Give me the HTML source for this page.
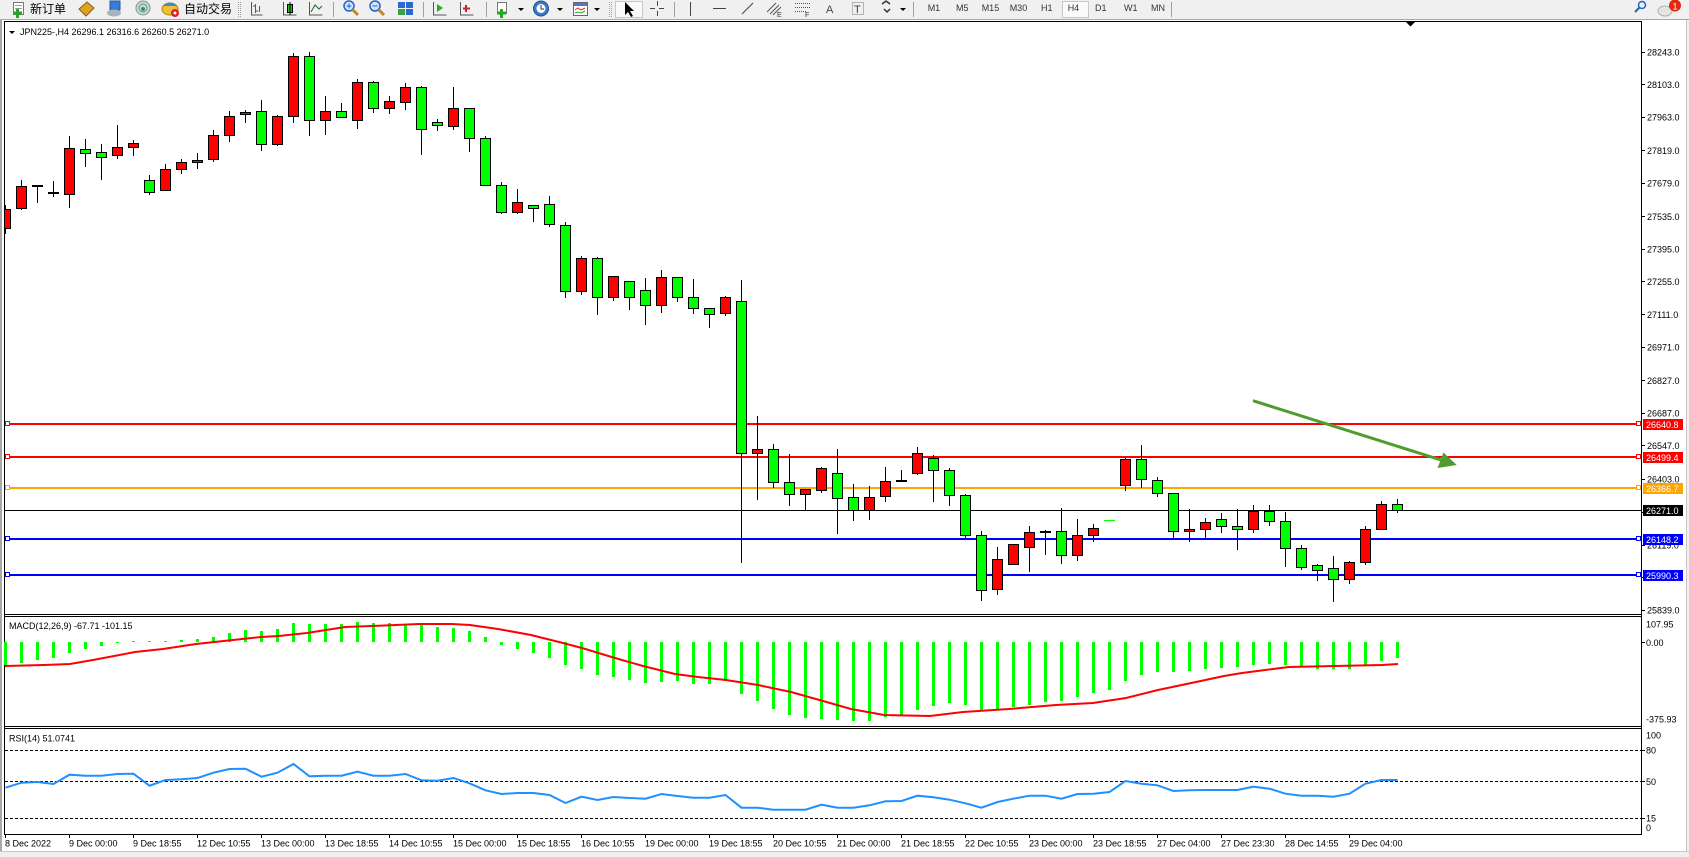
<!DOCTYPE html>
<html><head><meta charset="utf-8"><style>
html,body{margin:0;padding:0;background:#f0f0f0;}
svg{display:block;}
text{font-family:"Liberation Sans",sans-serif;}
.cjk{font-family:"Liberation Sans","Noto Sans CJK SC",sans-serif;}
</style></head><body>
<svg width="1689" height="857" viewBox="0 0 1689 857" xmlns="http://www.w3.org/2000/svg">
<defs><clipPath id="mc"><rect x="5" y="22" width="1636" height="592"/></clipPath></defs>
<!-- background -->
<rect x="0" y="0" width="1689" height="857" fill="#f0f0f0"/>
<!-- toolbar -->
<rect x="0" y="0" width="1689" height="19" fill="#f0f0f0"/>
<line x1="0" y1="19.5" x2="1689" y2="19.5" stroke="#a8a8a8"/>
<g shape-rendering="crispEdges">
<rect x="13.5" y="2.5" width="10" height="12" fill="#fff" stroke="#777"/>
<line x1="15" y1="5.5" x2="22" y2="5.5" stroke="#999"/><line x1="15" y1="8.5" x2="22" y2="8.5" stroke="#999"/>
</g>
<path d="M13 13h9M17.5 9v9" stroke="#22aa22" stroke-width="3"/>
<text x="30" y="13" font-size="12" class="cjk" fill="#000">新订单</text>
<polygon points="79,9 87,2 94,8 86,16" fill="#d9a520" stroke="#8a5a10"/>
<rect x="110" y="1" width="10" height="9" fill="#3a7bd5" stroke="#245a9e"/>
<ellipse cx="114" cy="13" rx="7" ry="3.5" fill="#a8b4bc"/>
<circle cx="143" cy="8" r="7" fill="#c8d8e0" stroke="#7a9a8a"/>
<circle cx="143" cy="8" r="4" fill="none" stroke="#6a9a6a"/>
<circle cx="143" cy="9" r="2" fill="#3a9a3a"/>
<ellipse cx="170" cy="9" rx="8" ry="6" fill="#f0c030" stroke="#b08010"/>
<path d="M163 6 q7 -7 14 0z" fill="#3a8ad0"/>
<circle cx="175" cy="13" r="4" fill="#e02020"/><circle cx="175" cy="13" r="1.5" fill="#fff"/>
<text x="184" y="13" font-size="12" class="cjk" fill="#000">自动交易</text>
<g stroke="#a0a0a0" shape-rendering="crispEdges">
<line x1="238.5" y1="2" x2="238.5" y2="17" stroke-dasharray="1,1"/><line x1="240.5" y1="2" x2="240.5" y2="17" stroke-dasharray="1,1"/>
<line x1="333.5" y1="2" x2="333.5" y2="17"/>
<line x1="423.5" y1="2" x2="423.5" y2="17"/>
<line x1="486.5" y1="2" x2="486.5" y2="17"/>
<line x1="609.5" y1="2" x2="609.5" y2="17" stroke-dasharray="1,1"/><line x1="611.5" y1="2" x2="611.5" y2="17" stroke-dasharray="1,1"/>
<line x1="674.5" y1="2" x2="674.5" y2="17"/>
<line x1="913.5" y1="2" x2="913.5" y2="17"/>
<line x1="1171.5" y1="2" x2="1171.5" y2="17"/>
</g>
<!-- chart type icons -->
<g stroke-width="1" shape-rendering="crispEdges">
<path d="M251.5 2v13h11" stroke="#555" fill="none"/>
<path d="M255.5 4v9M253 6h2.5M255.5 11h2.5M259.5 6v6" stroke="#208020" fill="none"/>
<path d="M283.5 2v13h13" stroke="#555" fill="none"/>
<rect x="287.5" y="4.5" width="5" height="8" fill="#20c020" stroke="#000"/>
<line x1="290" y1="2" x2="290" y2="15" stroke="#000"/>
<path d="M309.5 2v13h13" stroke="#555" fill="none"/>
</g>
<path d="M311 12 L315 5 L319 9 L322 6" stroke="#306030" fill="none"/>
<!-- zoom -->
<circle cx="349" cy="6" r="5" fill="#cfe6ff" stroke="#2a62c0" stroke-width="1.5"/>
<path d="M346.5 6h5M349 3.5v5" stroke="#2a62c0"/>
<line x1="352.5" y1="9.5" x2="358" y2="15" stroke="#c08a20" stroke-width="3"/>
<circle cx="375" cy="6" r="5" fill="#cfe6ff" stroke="#2a62c0" stroke-width="1.5"/>
<path d="M372.5 6h5" stroke="#2a62c0"/>
<line x1="378.5" y1="9.5" x2="384" y2="15" stroke="#c08a20" stroke-width="3"/>
<g shape-rendering="crispEdges">
<rect x="398" y="2" width="7" height="6" fill="#2a6ad0"/><rect x="406" y="2" width="7" height="6" fill="#2a6ad0"/>
<rect x="398" y="9" width="7" height="6" fill="#3aa040"/><rect x="406" y="9" width="7" height="6" fill="#2a6ad0"/>
<path d="M433.5 2v13h13" stroke="#555" fill="none"/>
<path d="M460.5 2v13h13" stroke="#555" fill="none"/>
</g>
<polygon points="437,4 437,12 443,8" fill="#20b020"/>
<path d="M466 5v7M463 8.5h7" stroke="#d02020" stroke-width="2"/>
<rect x="497.5" y="2.5" width="9" height="11" fill="#fff" stroke="#777"/>
<path d="M497 13h9M501.5 9v9" stroke="#22aa22" stroke-width="3"/>
<polygon points="518,8 524,8 521,11" fill="#000"/>
<circle cx="541" cy="8.5" r="7.5" fill="#3c78c8" stroke="#1d4f9a"/>
<circle cx="541" cy="8.5" r="4.5" fill="#fff"/>
<path d="M541 5v4h3" stroke="#333" fill="none"/>
<polygon points="557,8 563,8 560,11" fill="#000"/>
<rect x="573.5" y="2.5" width="14" height="13" fill="#fff" stroke="#667"/>
<rect x="574" y="3" width="13" height="3" fill="#4a7ac0"/>
<path d="M575 10l3-2 3 2 4-2" stroke="#d03030" fill="none"/>
<path d="M575 13l3-1 3 1 4-2" stroke="#30a030" fill="none"/>
<polygon points="594,8 600,8 597,11" fill="#000"/>
<!-- cursor pressed -->
<rect x="615.5" y="1.5" width="27" height="16" fill="#fafafa" stroke="#c8c8c8"/>
<polygon points="625,2 625,15 628,12 631,17 633,16 630,11 634,11" fill="#000"/>
<g stroke="#444" shape-rendering="crispEdges">
<path d="M650 8.5h5M659 8.5h5M657.5 1v5M657.5 11v5"/>
<line x1="690.5" y1="2" x2="690.5" y2="16"/>
<line x1="713" y1="8.5" x2="726" y2="8.5"/>
</g>
<line x1="742" y1="14" x2="753" y2="3" stroke="#444"/>
<path d="M767 12l9-9M770 14l9-9M773 15l8-8" stroke="#555"/>
<text x="777" y="17" font-size="7" fill="#333">E</text>
<g stroke="#555" stroke-dasharray="1,1" shape-rendering="crispEdges">
<line x1="795" y1="3.5" x2="810" y2="3.5"/><line x1="795" y1="7.5" x2="810" y2="7.5"/><line x1="795" y1="11.5" x2="806" y2="11.5"/>
</g>
<text x="805" y="17" font-size="7" fill="#333">F</text>
<text x="826" y="13" font-size="11" fill="#444">A</text>
<rect x="852.5" y="2.5" width="11" height="12" fill="none" stroke="#777" stroke-dasharray="1,1"/>
<text x="854" y="13" font-size="11" fill="#444">T</text>
<path d="M882 4l4-3 4 3M884 9l3 3 3-3" stroke="#333" stroke-width="1.5" fill="none"/>
<polygon points="900,8 906,8 903,11" fill="#000"/>
<g font-size="9" fill="#333">
<text x="927.7" y="11">M1</text>
<text x="956" y="11">M5</text>
<text x="981.7" y="11">M15</text>
<text x="1009.7" y="11">M30</text>
<text x="1041" y="11">H1</text>
</g>
<rect x="1062.5" y="1.5" width="26" height="16" fill="#fafafa" stroke="#c8c8c8"/>
<g font-size="9" fill="#333">
<text x="1067.7" y="11">H4</text>
<text x="1095" y="11">D1</text>
<text x="1124" y="11">W1</text>
<text x="1151" y="11">MN</text>
</g>
<!-- right icons -->
<circle cx="1642" cy="5" r="3.5" fill="#e8f2ff" stroke="#2a62c0" stroke-width="1.5"/>
<line x1="1639.5" y1="7.5" x2="1635" y2="12" stroke="#2a62c0" stroke-width="2"/>
<ellipse cx="1665" cy="11" rx="7" ry="5" fill="#e4e4e4" stroke="#b0b0b0"/>
<circle cx="1675" cy="5.5" r="6" fill="#e02a10"/>
<text x="1672.5" y="9.5" font-size="9" fill="#fff">1</text>

<!-- chart window -->
<rect x="2" y="20" width="1684" height="831" fill="#fff"/>
<rect x="0" y="20" width="2" height="831" fill="#a8a8a8"/>
<rect x="1686" y="20" width="1" height="831" fill="#c8c8c8"/>
<rect x="0" y="851" width="1689" height="1" fill="#c8c8c8"/>
<g stroke="#000" stroke-width="1" shape-rendering="crispEdges" fill="none">
<line x1="4.5" y1="21" x2="4.5" y2="835"/>
<line x1="4" y1="21.5" x2="1642" y2="21.5"/>
<line x1="1641.5" y1="21" x2="1641.5" y2="835"/>
<line x1="4" y1="614.5" x2="1642" y2="614.5"/>
<line x1="4" y1="616.5" x2="1642" y2="616.5"/>
<line x1="4" y1="726.5" x2="1642" y2="726.5"/>
<line x1="4" y1="728.5" x2="1642" y2="728.5"/>
<line x1="4" y1="834.5" x2="1642" y2="834.5"/>
</g>
<polygon points="1406,22 1415,22 1410.5,26.5" fill="#000"/>
<polygon points="9,31 15,31 12,34" fill="#000"/>
<text x="20" y="35" font-size="9" fill="#000">JPN225-,H4  26296.1 26316.6 26260.5 26271.0</text>

<!-- price axis labels -->
<g font-size="9" fill="#000">
<text x="1647" y="55.4">28243.0</text>
<text x="1647" y="87.9">28103.0</text>
<text x="1647" y="120.4">27963.0</text>
<text x="1647" y="153.8">27819.0</text>
<text x="1647" y="186.3">27679.0</text>
<text x="1647" y="219.8">27535.0</text>
<text x="1647" y="252.3">27395.0</text>
<text x="1647" y="284.8">27255.0</text>
<text x="1647" y="318.2">27111.0</text>
<text x="1647" y="350.7">26971.0</text>
<text x="1647" y="384.1">26827.0</text>
<text x="1647" y="416.6">26687.0</text>
<text x="1647" y="449.1">26547.0</text>
<text x="1647" y="482.5">26403.0</text>
<text x="1647" y="515.9">26259.0</text>
<text x="1647" y="548.4">26119.0</text>
<text x="1647" y="580.9">25979.0</text>
<text x="1647" y="613.4">25839.0</text>
</g>
<g stroke="#000" shape-rendering="crispEdges">
<path d="M1642 52.5h3M1642 84.5h3M1642 117.5h3M1642 150.5h3M1642 183.5h3M1642 216.5h3M1642 249.5h3M1642 281.5h3M1642 314.5h3M1642 347.5h3M1642 380.5h3M1642 413.5h3M1642 445.5h3M1642 479.5h3M1642 512.5h3M1642 545.5h3M1642 577.5h3M1642 610.5h3"/>
<path d="M1642 642.5h3M1642 750.5h3M1642 781.5h3M1642 818.5h3"/>
</g>

<!-- horizontal price lines -->
<g shape-rendering="crispEdges">
<rect x="5" y="423" width="1636" height="2" fill="#ff0000"/>
<rect x="5" y="456" width="1636" height="2" fill="#ff0000"/>
<rect x="5" y="487" width="1636" height="2" fill="#ffa500"/>
<rect x="5" y="510" width="1636" height="1" fill="#000"/>
<rect x="5" y="538" width="1636" height="2" fill="#0000ff"/>
<rect x="5" y="574" width="1636" height="2" fill="#0000ff"/>
<rect x="5.5" y="421.5" width="4" height="4" fill="#fff" stroke="#ff0000"/>
<rect x="5.5" y="454.5" width="4" height="4" fill="#fff" stroke="#ff0000"/>
<rect x="5.5" y="485.5" width="4" height="4" fill="#fff" stroke="#ffa500"/>
<rect x="5.5" y="536.5" width="4" height="4" fill="#fff" stroke="#0000ff"/>
<rect x="5.5" y="572.5" width="4" height="4" fill="#fff" stroke="#0000ff"/>
<rect x="1636.5" y="421.5" width="4" height="4" fill="#fff" stroke="#ff0000"/>
<rect x="1636.5" y="454.5" width="4" height="4" fill="#fff" stroke="#ff0000"/>
<rect x="1636.5" y="485.5" width="4" height="4" fill="#fff" stroke="#ffa500"/>
<rect x="1636.5" y="536.5" width="4" height="4" fill="#fff" stroke="#0000ff"/>
<rect x="1636.5" y="572.5" width="4" height="4" fill="#fff" stroke="#0000ff"/>
<rect x="1643" y="419" width="40" height="11" fill="#ff0000"/>
<rect x="1643" y="452" width="40" height="11" fill="#ff0000"/>
<rect x="1643" y="483" width="40" height="11" fill="#ffa500"/>
<rect x="1643" y="505" width="40" height="11" fill="#000"/>
<rect x="1643" y="534" width="40" height="11" fill="#0000ff"/>
<rect x="1643" y="570" width="40" height="11" fill="#0000ff"/>
</g>
<g font-size="9" fill="#fff">
<text x="1646" y="427.8">26640.8</text>
<text x="1646" y="460.8">26499.4</text>
<text x="1646" y="491.8">26366.7</text>
<text x="1646" y="513.8">26271.0</text>
<text x="1646" y="542.8">26148.2</text>
<text x="1646" y="578.8">25990.3</text>
</g>

<!-- candles -->
<g clip-path="url(#mc)" stroke="#000" stroke-width="1" shape-rendering="crispEdges">
<path fill="none" d="M5.5 205V234M21.5 180V210M37.5 186V203M53.5 181V197M69.5 136V208M85.5 139V167M101.5 144V180M117.5 125V159M133.5 140V156M149.5 175V195M165.5 164V191M181.5 159V174M197.5 153V169M213.5 130V162M229.5 111V142M245.5 110V123M261.5 100V151M277.5 115V146M293.5 53V123M309.5 52V136M325.5 96V135M341.5 103V118M357.5 79V129M373.5 81V113M389.5 96V114M405.5 83V110M421.5 86V155M437.5 119V131M453.5 87V130M469.5 108V152M485.5 136V186M501.5 182V214M517.5 189V214M533.5 205V222M549.5 196V227M565.5 222V298M581.5 256V295M597.5 257V315M613.5 276V301M629.5 281V310M645.5 278V325M661.5 270V313M677.5 277V302M693.5 279V314M709.5 308V328M725.5 296V316M741.5 280V563M757.5 416V500M773.5 444V488M789.5 454V506M805.5 489V510M821.5 467V493M837.5 449V534M853.5 484V521M869.5 486V520M885.5 467V502M901.5 470V482M917.5 447V475M933.5 455V502M949.5 468V506M965.5 494V538M981.5 531V601M997.5 547V595M1013.5 544V565M1029.5 526V572M1045.5 530V555M1061.5 508V564M1077.5 519V561M1093.5 524V542M1125.5 458V491M1141.5 445V488M1157.5 477V497M1173.5 493V539M1189.5 509V542M1205.5 518V539M1221.5 513V533M1237.5 509V550M1253.5 505V533M1269.5 505V526M1285.5 512V567M1301.5 545V570M1317.5 564V581M1333.5 556V602M1349.5 561V584M1365.5 526V565M1381.5 501V530M1397.5 499V513"/>
<g fill="#ff0000">
<rect x="0.5" y="209.5" width="10" height="19"/>
<rect x="16.5" y="186.5" width="10" height="22"/>
<rect x="64.5" y="148.5" width="10" height="46"/>
<rect x="112.5" y="147.5" width="10" height="8"/>
<rect x="128.5" y="143.5" width="10" height="4"/>
<rect x="160.5" y="169.5" width="10" height="21"/>
<rect x="176.5" y="162.5" width="10" height="7"/>
<rect x="192.5" y="160.5" width="10" height="2"/>
<rect x="208.5" y="135.5" width="10" height="24"/>
<rect x="224.5" y="116.5" width="10" height="19"/>
<rect x="240.5" y="112.5" width="10" height="2"/>
<rect x="272.5" y="116.5" width="10" height="28"/>
<rect x="288.5" y="56.5" width="10" height="60"/>
<rect x="320.5" y="111.5" width="10" height="9"/>
<rect x="352.5" y="82.5" width="10" height="38"/>
<rect x="384.5" y="101.5" width="10" height="7"/>
<rect x="400.5" y="87.5" width="10" height="15"/>
<rect x="448.5" y="108.5" width="10" height="18"/>
<rect x="512.5" y="202.5" width="10" height="10"/>
<rect x="576.5" y="258.5" width="10" height="33"/>
<rect x="608.5" y="276.5" width="10" height="21"/>
<rect x="656.5" y="277.5" width="10" height="28"/>
<rect x="720.5" y="297.5" width="10" height="16"/>
<rect x="752.5" y="449.5" width="10" height="4"/>
<rect x="800.5" y="489.5" width="10" height="5"/>
<rect x="816.5" y="468.5" width="10" height="22"/>
<rect x="864.5" y="497.5" width="10" height="13"/>
<rect x="880.5" y="481.5" width="10" height="15"/>
<rect x="912.5" y="453.5" width="10" height="20"/>
<rect x="992.5" y="559.5" width="10" height="30"/>
<rect x="1008.5" y="544.5" width="10" height="20"/>
<rect x="1024.5" y="532.5" width="10" height="15"/>
<rect x="1072.5" y="535.5" width="10" height="20"/>
<rect x="1088.5" y="528.5" width="10" height="7"/>
<rect x="1120.5" y="459.5" width="10" height="26"/>
<rect x="1184.5" y="529.5" width="10" height="2"/>
<rect x="1200.5" y="522.5" width="10" height="7"/>
<rect x="1248.5" y="511.5" width="10" height="18"/>
<rect x="1344.5" y="562.5" width="10" height="17"/>
<rect x="1360.5" y="529.5" width="10" height="33"/>
<rect x="1376.5" y="504.5" width="10" height="25"/>
</g>
<g fill="#00ff00">
<rect x="80.5" y="149.5" width="10" height="4"/>
<rect x="96.5" y="152.5" width="10" height="5"/>
<rect x="144.5" y="180.5" width="10" height="12"/>
<rect x="256.5" y="111.5" width="10" height="33"/>
<rect x="304.5" y="56.5" width="10" height="64"/>
<rect x="336.5" y="111.5" width="10" height="6"/>
<rect x="368.5" y="82.5" width="10" height="26"/>
<rect x="416.5" y="87.5" width="10" height="42"/>
<rect x="432.5" y="122.5" width="10" height="3"/>
<rect x="464.5" y="108.5" width="10" height="30"/>
<rect x="480.5" y="138.5" width="10" height="47"/>
<rect x="496.5" y="185.5" width="10" height="27"/>
<rect x="528.5" y="205.5" width="10" height="3"/>
<rect x="544.5" y="204.5" width="10" height="20"/>
<rect x="560.5" y="225.5" width="10" height="66"/>
<rect x="592.5" y="258.5" width="10" height="39"/>
<rect x="624.5" y="281.5" width="10" height="16"/>
<rect x="640.5" y="290.5" width="10" height="15"/>
<rect x="672.5" y="277.5" width="10" height="20"/>
<rect x="688.5" y="297.5" width="10" height="11"/>
<rect x="704.5" y="308.5" width="10" height="6"/>
<rect x="736.5" y="301.5" width="10" height="152"/>
<rect x="768.5" y="449.5" width="10" height="33"/>
<rect x="784.5" y="482.5" width="10" height="12"/>
<rect x="832.5" y="473.5" width="10" height="25"/>
<rect x="848.5" y="497.5" width="10" height="13"/>
<rect x="928.5" y="458.5" width="10" height="12"/>
<rect x="944.5" y="470.5" width="10" height="25"/>
<rect x="960.5" y="495.5" width="10" height="40"/>
<rect x="976.5" y="535.5" width="10" height="55"/>
<rect x="1056.5" y="531.5" width="10" height="24"/>
<rect x="1136.5" y="459.5" width="10" height="20"/>
<rect x="1152.5" y="480.5" width="10" height="13"/>
<rect x="1168.5" y="493.5" width="10" height="38"/>
<rect x="1216.5" y="519.5" width="10" height="7"/>
<rect x="1232.5" y="526.5" width="10" height="3"/>
<rect x="1264.5" y="511.5" width="10" height="10"/>
<rect x="1280.5" y="521.5" width="10" height="27"/>
<rect x="1296.5" y="548.5" width="10" height="19"/>
<rect x="1312.5" y="565.5" width="10" height="5"/>
<rect x="1328.5" y="568.5" width="10" height="11"/>
<rect x="1392.5" y="504.5" width="10" height="6"/>
</g>
<g fill="#000" stroke="none">
<rect x="32" y="185" width="11" height="2"/>
<rect x="48" y="192" width="11" height="2"/>
<rect x="896" y="480" width="11" height="2"/>
<rect x="1040" y="531" width="11" height="2"/>
</g>
<rect x="1104" y="520" width="11" height="1" fill="#00ff00" stroke="none"/>
</g>
<!-- arrow -->
<line x1="1253" y1="400.7" x2="1441" y2="460" stroke="#4f9d2d" stroke-width="3"/>
<polygon points="1456.7,465 1437.5,468 1443.5,452.5" fill="#4f9d2d"/>

<!-- MACD -->
<text x="9" y="629" font-size="9" fill="#000">MACD(12,26,9) -67.71 -101.15</text>
<g fill="#00ff00" shape-rendering="crispEdges">
<rect x="4" y="642" width="3" height="23"/><rect x="20" y="642" width="3" height="21"/><rect x="36" y="642" width="3" height="18"/><rect x="52" y="642" width="3" height="16"/><rect x="68" y="642" width="3" height="11"/><rect x="84" y="642" width="3" height="7"/><rect x="100" y="642" width="3" height="4"/><rect x="116" y="642" width="3" height="1"/>
<rect x="132" y="641" width="3" height="1"/><rect x="148" y="641" width="3" height="1"/><rect x="164" y="641" width="3" height="1"/><rect x="180" y="640" width="3" height="2"/><rect x="196" y="639" width="3" height="3"/><rect x="212" y="637" width="3" height="5"/><rect x="228" y="633" width="3" height="9"/><rect x="244" y="630" width="3" height="12"/><rect x="260" y="631" width="3" height="11"/><rect x="276" y="629" width="3" height="13"/><rect x="292" y="623" width="3" height="19"/><rect x="308" y="624" width="3" height="18"/><rect x="324" y="624" width="3" height="18"/><rect x="340" y="624" width="3" height="18"/><rect x="356" y="622" width="3" height="20"/><rect x="372" y="623" width="3" height="19"/><rect x="388" y="623" width="3" height="19"/><rect x="404" y="624" width="3" height="18"/><rect x="420" y="624" width="3" height="18"/><rect x="436" y="627" width="3" height="15"/><rect x="452" y="628" width="3" height="14"/><rect x="468" y="631" width="3" height="11"/><rect x="484" y="637" width="3" height="5"/>
<rect x="500" y="642" width="3" height="3"/><rect x="516" y="642" width="3" height="7"/><rect x="532" y="642" width="3" height="11"/><rect x="548" y="642" width="3" height="16"/><rect x="564" y="642" width="3" height="23"/><rect x="580" y="642" width="3" height="27"/><rect x="596" y="642" width="3" height="33"/><rect x="612" y="642" width="3" height="35"/><rect x="628" y="642" width="3" height="38"/><rect x="644" y="642" width="3" height="41"/><rect x="660" y="642" width="3" height="40"/><rect x="676" y="642" width="3" height="39"/><rect x="692" y="642" width="3" height="42"/><rect x="708" y="642" width="3" height="42"/><rect x="724" y="642" width="3" height="39"/>
<rect x="740" y="642" width="3" height="52"/><rect x="756" y="642" width="3" height="59"/><rect x="772" y="642" width="3" height="67"/><rect x="788" y="642" width="3" height="73"/><rect x="804" y="642" width="3" height="76"/><rect x="820" y="642" width="3" height="77"/><rect x="836" y="642" width="3" height="78"/><rect x="852" y="642" width="3" height="79"/><rect x="868" y="642" width="3" height="79"/><rect x="884" y="642" width="3" height="75"/><rect x="900" y="642" width="3" height="73"/><rect x="916" y="642" width="3" height="68"/><rect x="932" y="642" width="3" height="64"/><rect x="948" y="642" width="3" height="61"/><rect x="964" y="642" width="3" height="63"/><rect x="980" y="642" width="3" height="68"/><rect x="996" y="642" width="3" height="68"/><rect x="1012" y="642" width="3" height="65"/><rect x="1028" y="642" width="3" height="63"/><rect x="1044" y="642" width="3" height="60"/><rect x="1060" y="642" width="3" height="59"/><rect x="1076" y="642" width="3" height="55"/><rect x="1092" y="642" width="3" height="51"/><rect x="1108" y="642" width="3" height="48"/><rect x="1124" y="642" width="3" height="39"/><rect x="1140" y="642" width="3" height="33"/><rect x="1156" y="642" width="3" height="30"/><rect x="1172" y="642" width="3" height="30"/><rect x="1188" y="642" width="3" height="29"/><rect x="1204" y="642" width="3" height="27"/><rect x="1220" y="642" width="3" height="26"/><rect x="1236" y="642" width="3" height="25"/><rect x="1252" y="642" width="3" height="23"/><rect x="1268" y="642" width="3" height="22"/><rect x="1284" y="642" width="3" height="23"/><rect x="1300" y="642" width="3" height="24"/><rect x="1316" y="642" width="3" height="27"/><rect x="1332" y="642" width="3" height="27"/><rect x="1348" y="642" width="3" height="27"/><rect x="1364" y="642" width="3" height="23"/><rect x="1380" y="642" width="3" height="19"/><rect x="1396" y="642" width="3" height="16"/>
</g>
<polyline fill="none" stroke="#ff0000" stroke-width="2" points="5,666 44,665 70,664 93,660 135,652 163,649 196,644 233,640 261,637 279,636 307,633 326,630 345,627 372,626 396,625 419,624 452,624 470,625 498,629 531,635 559,642 582,648 615,658 643,666 675,674 698,677 726,680 758,685 772,688 791,692 823,701 851,709 884,715 930,716 963,712 1009,709 1056,705 1093,703 1126,698 1158,690 1196,682 1224,676 1242,673 1289,667 1335,666 1382,665 1398,664"/>
<g font-size="9" fill="#000">
<text x="1646" y="627.3">107.95</text>
<text x="1646" y="646">0.00</text>
<text x="1646" y="722.6">-375.93</text>
</g>

<!-- RSI -->
<text x="9" y="741.3" font-size="9" fill="#000">RSI(14) 51.0741</text>
<g stroke="#000" stroke-dasharray="3,2" shape-rendering="crispEdges">
<line x1="5" y1="750.5" x2="1641" y2="750.5"/>
<line x1="5" y1="781.5" x2="1641" y2="781.5"/>
<line x1="5" y1="818.5" x2="1641" y2="818.5"/>
</g>
<polyline fill="none" stroke="#1e90ff" stroke-width="2" points="5.5,787.7 21.5,782.7 37.5,782 53.5,784 69.5,774.7 85.5,775.7 101.5,775.7 117.5,774 133.5,773.7 149.5,785.7 165.5,780 181.5,779.3 197.5,778 213.5,772.7 229.5,769 245.5,768.7 261.5,776.7 277.5,772.7 293.5,764 309.5,776.3 325.5,775.7 341.5,775.7 357.5,771.7 373.5,775.7 389.5,775.7 405.5,774 421.5,780.3 437.5,780.7 453.5,778 469.5,783.3 485.5,790.3 501.5,794 517.5,793 533.5,793 549.5,795 565.5,803 581.5,796.7 597.5,800 613.5,797 629.5,798 645.5,798.7 661.5,794 677.5,796 693.5,797.7 709.5,797.7 725.5,795 741.5,807.7 757.5,807.7 773.5,809.7 789.5,809.7 805.5,809.7 821.5,804.7 837.5,807.7 853.5,807.7 869.5,805.3 885.5,801.3 901.5,801 917.5,795.7 933.5,797.3 949.5,799.7 965.5,803.3 981.5,807.7 997.5,802 1013.5,798.7 1029.5,795.7 1045.5,795.7 1061.5,798.7 1077.5,794 1093.5,793.7 1109.5,792 1125.5,781 1141.5,783.7 1157.5,785.3 1173.5,791 1189.5,790.3 1205.5,790 1221.5,790 1237.5,790 1253.5,786.7 1269.5,788.7 1285.5,793.7 1301.5,795.7 1317.5,795.7 1333.5,796.7 1349.5,793.7 1365.5,783.7 1381.5,780 1397.5,780"/>
<g font-size="9" fill="#000">
<text x="1646" y="738.3">100</text>
<text x="1646" y="753.6">80</text>
<text x="1646" y="785">50</text>
<text x="1646" y="821.6">15</text>
<text x="1646" y="831">0</text>
</g>

<!-- time axis -->
<path stroke="#000" shape-rendering="crispEdges" d="M5.5 835v3M69.5 835v3M133.5 835v3M197.5 835v3M261.5 835v3M325.5 835v3M389.5 835v3M453.5 835v3M517.5 835v3M581.5 835v3M645.5 835v3M709.5 835v3M773.5 835v3M837.5 835v3M901.5 835v3M965.5 835v3M1029.5 835v3M1093.5 835v3M1157.5 835v3M1221.5 835v3M1285.5 835v3M1349.5 835v3"/>
<g font-size="9" fill="#000">
<text x="5" y="846.5">8 Dec 2022</text>
<text x="69" y="846.5">9 Dec 00:00</text>
<text x="133" y="846.5">9 Dec 18:55</text>
<text x="197" y="846.5">12 Dec 10:55</text>
<text x="261" y="846.5">13 Dec 00:00</text>
<text x="325" y="846.5">13 Dec 18:55</text>
<text x="389" y="846.5">14 Dec 10:55</text>
<text x="453" y="846.5">15 Dec 00:00</text>
<text x="517" y="846.5">15 Dec 18:55</text>
<text x="581" y="846.5">16 Dec 10:55</text>
<text x="645" y="846.5">19 Dec 00:00</text>
<text x="709" y="846.5">19 Dec 18:55</text>
<text x="773" y="846.5">20 Dec 10:55</text>
<text x="837" y="846.5">21 Dec 00:00</text>
<text x="901" y="846.5">21 Dec 18:55</text>
<text x="965" y="846.5">22 Dec 10:55</text>
<text x="1029" y="846.5">23 Dec 00:00</text>
<text x="1093" y="846.5">23 Dec 18:55</text>
<text x="1157" y="846.5">27 Dec 04:00</text>
<text x="1221" y="846.5">27 Dec 23:30</text>
<text x="1285" y="846.5">28 Dec 14:55</text>
<text x="1349" y="846.5">29 Dec 04:00</text>
</g>
</svg>
</body></html>
